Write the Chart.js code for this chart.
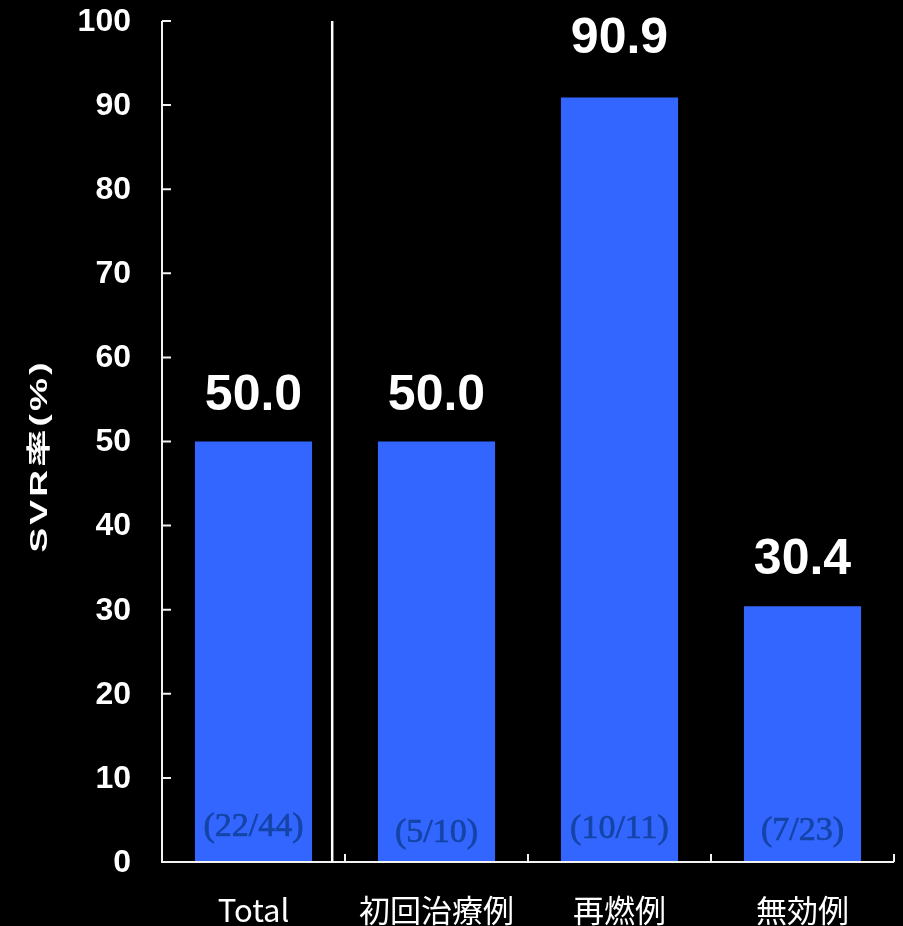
<!DOCTYPE html>
<html>
<head>
<meta charset="utf-8">
<script src="https://cdn.jsdelivr.net/npm/chart.js@4/dist/chart.umd.min.js"></script>
<style>
  html, body { margin: 0; padding: 0; background: #000; }
  #wrap { width: 903px; height: 926px; }
</style>
</head>
<body>
<div id="wrap"><canvas id="myChart" width="903" height="926"></canvas></div>
<script>
var categories = ['Total', '初回治療例', '再燃例', '無効例'];
var svrRate = [50.0, 50.0, 90.9, 30.4];
var fractions = ['(22/44)', '(5/10)', '(10/11)', '(7/23)'];
var yTicks = [0, 10, 20, 30, 40, 50, 60, 70, 80, 90, 100];

// small per-bar tweaks for the text placement
var valueLift = [0, 0, 13, 0];
var fracDrop = [26, 20, 24, 22];

var axisColour = '#f2f2f2';

var drawExtras = {
  id: 'drawExtras',
  afterDatasetsDraw: function(chart) {
    var ctx = chart.ctx;
    var xs = chart.scales.x;
    var ys = chart.scales.y;
    var area = chart.chartArea;
    var meta = chart.getDatasetMeta(0);
    ctx.save();

    // axes
    ctx.strokeStyle = axisColour;
    ctx.lineWidth = 2;
    ctx.beginPath();
    ctx.moveTo(area.left, ys.getPixelForValue(100));
    ctx.lineTo(area.left, ys.getPixelForValue(0));
    ctx.lineTo(area.right, ys.getPixelForValue(0));
    ctx.stroke();

    // inward ticks on y, with their labels
    ctx.beginPath();
    ctx.fillStyle = '#ffffff';
    ctx.font = 'bold 32px "Liberation Sans", Arial, sans-serif';
    ctx.textAlign = 'right';
    ctx.textBaseline = 'middle';
    yTicks.forEach(function(v) {
      var y = ys.getPixelForValue(v);
      ctx.moveTo(area.left, y);
      ctx.lineTo(area.left + 9, y);
      ctx.fillText(String(v), area.left - 31, y + 1);
    });
    // inward ticks on x at category boundaries
    for (var i = 1; i <= categories.length; i++) {
      var bx = xs.getPixelForValue(i - 0.5);
      ctx.moveTo(bx, ys.getPixelForValue(0));
      ctx.lineTo(bx, ys.getPixelForValue(0) - 8);
    }
    ctx.stroke();

    // separator between Total and the groups
    var sx = xs.getPixelForValue(0.43);
    ctx.strokeStyle = '#ffffff';
    ctx.lineWidth = 2.5;
    ctx.beginPath();
    ctx.moveTo(sx, ys.getPixelForValue(100));
    ctx.lineTo(sx, ys.getPixelForValue(0));
    ctx.stroke();

    // value labels and counts
    ctx.textAlign = 'center';
    ctx.textBaseline = 'alphabetic';
    meta.data.forEach(function(bar, i) {
      ctx.fillStyle = '#ffffff';
      ctx.font = 'bold 50px "Liberation Sans", Arial, sans-serif';
      ctx.fillText(svrRate[i].toFixed(1), bar.x, bar.y - 32 - valueLift[i]);

      var fy = ys.getPixelForValue(0) - fracDrop[i];
      ctx.fillStyle = '#1444a6';
      ctx.strokeStyle = '#1444a6';
      ctx.lineWidth = 0.7;
      ctx.font = '34px "Liberation Serif", "Times New Roman", serif';
      ctx.fillText(fractions[i], bar.x, fy);
      ctx.strokeText(fractions[i], bar.x, fy);
    });

    // y axis title, stretched along its length
    ctx.translate(40, 456);
    ctx.rotate(-Math.PI / 2);
    ctx.scale(1.55, 1);
    ctx.fillStyle = '#ffffff';
    ctx.font = 'bold 24px "Liberation Sans", "Noto Sans CJK JP", sans-serif';
    ctx.letterSpacing = '2px';
    ctx.textBaseline = 'middle';
    ctx.fillText('SVR率(%)', 0, 0);
    ctx.restore();
  }
};

var ctx = document.getElementById('myChart').getContext('2d');
var svrChart = new Chart(ctx, {
  type: 'bar',
  data: {
    labels: categories,
    datasets: [{
      label: 'SVR率',
      data: svrRate,
      backgroundColor: '#3366ff',
      borderWidth: 0,
      categoryPercentage: 1.0,
      barPercentage: 0.64
    }]
  },
  options: {
    responsive: false,
    animation: false,
    layout: { padding: { left: 0, right: 9, top: 21, bottom: 0 } },
    plugins: {
      legend: { display: false },
      tooltip: { enabled: false }
    },
    scales: {
      x: {
        grid: { display: false },
        border: { display: false },
        ticks: {
          color: '#ffffff',
          font: { family: '"Noto Sans CJK JP", sans-serif', size: 31 },
          padding: 22,
          maxRotation: 0
        },
        afterFit: function(scale) { scale.height = 64; }
      },
      y: {
        min: 0,
        max: 100,
        grid: { display: false },
        border: { display: false },
        ticks: { display: false, stepSize: 10 },
        afterFit: function(scale) { scale.width = 162; }
      }
    }
  },
  plugins: [drawExtras]
});
</script>
</body>
</html>
